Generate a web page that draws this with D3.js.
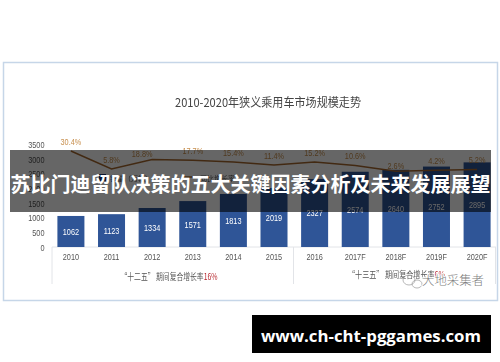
<!DOCTYPE html>
<html>
<head>
<meta charset="utf-8">
<script src="https://cdn.jsdelivr.net/npm/d3@7"></script>
<style>
  html, body { margin:0; padding:0; background:#fff; }
  svg { display:block; }
  text { font-family:"Liberation Sans","Noto Sans CJK SC",sans-serif; }
  .cjk { font-family:"Noto Sans CJK SC",sans-serif; }
</style>
</head>
<body>
<div id="chart"></div>
<script>
const years = ['2010','2011','2012','2013','2014','2015','2016','2017F','2018F','2019F','2020F'];
const sales = [1062,1123,1334,1571,1813,2019,2327,2574,2640,2752,2895];
const growth = [30.4,5.8,18.8,17.7,15.4,11.4,15.2,10.6,2.6,4.2,5.2];
const yTicks = [0,500,1000,1500,2000,2500,3000,3500];

const chartTitle = '2010-2020年狭义乘用车市场规模走势';
const legendLabels = ['销量（万辆）','同比增长率'];
const note12 = '“十二五” 期间复合增长率';
const note12Rate = '16%';
const note13 = '“十三五” 期间复合增长率';
const note13Rate = '6%';
const watermark = '大地采集者';
const headline = '苏比门迪留队决策的五大关键因素分析及未来发展展望';
const site = 'www.ch-cht-pggames.com';

const numFont = '"Liberation Sans",sans-serif';

// the numbers in the original are horizontally squeezed
function squeeze(sel){
  sel.each(function(){
    d3.select(this).attr('textLength', this.getComputedTextLength()*0.77).attr('lengthAdjust','spacingAndGlyphs');
  });
}

const svg = d3.select('#chart').append('svg').attr('width',500).attr('height',362);

// chart image is soft in the original, so blur it slightly
const chartG = svg.append('g').style('filter','blur(0.4px)');

chartG.append('rect').attr('x',3.5).attr('y',62.5).attr('width',494).attr('height',238)
  .attr('fill','#fff').attr('stroke','#c6d6e8').attr('stroke-width',1.5);

chartG.append('text').attr('class','cjk').attr('x',175).attr('y',106.5)
  .attr('textLength',186).attr('lengthAdjust','spacingAndGlyphs')
  .attr('font-size',12.4).attr('fill','#444').text(chartTitle);

const xScale = d3.scaleBand().domain(years).range([50.7,497.3]).paddingInner(0.335).paddingOuter(0.165);
const yScale = d3.scaleLinear().domain([0,3500]).range([247,144.7]);
const growthScale = d3.scaleLinear().domain([0,30.4]).range([173.2,151]);

// y axis
const yAxis = d3.axisLeft(yScale).tickValues(yTicks).tickSize(0).tickPadding(0).tickFormat(d3.format('d'));
chartG.append('g').attr('transform','translate(44.5,0)').call(yAxis)
  .call(g => g.select('.domain').remove())
  .call(g => g.selectAll('.tick text').attr('font-size',9.5).attr('fill','#555')
    .style('font-family',numFont).call(squeeze));

// baseline + period dividers
const grid = chartG.append('g').attr('stroke','#e2e4e8').attr('stroke-width',1).attr('fill','none');
grid.append('path').attr('d','M52,247H496');
grid.append('path').attr('d','M52,247V284');
grid.append('path').attr('d','M293.5,247V284');
grid.append('path').attr('d','M495.5,247V284');

// bars
chartG.append('g').selectAll('rect').data(sales).join('rect')
  .attr('x',(d,i)=>xScale(years[i]))
  .attr('y',d=>yScale(d))
  .attr('width',xScale.bandwidth())
  .attr('height',d=>yScale(0)-yScale(d))
  .attr('fill','#2f5597');

chartG.append('g').selectAll('text').data(sales).join('text')
  .attr('x',(d,i)=>xScale(years[i])+xScale.bandwidth()/2)
  .attr('y',d=>(yScale(d)+yScale(0))/2+3.5)
  .attr('text-anchor','middle').attr('font-size',9.5).attr('fill','#fff')
  .text(d=>d).call(squeeze);

// x labels
const xAxis = d3.axisBottom(xScale).tickSize(0).tickPadding(0);
chartG.append('g').attr('transform','translate(0,253)').call(xAxis)
  .call(g => g.select('.domain').remove())
  .call(g => g.selectAll('.tick text').attr('font-size',9.5).attr('fill','#555')
    .style('font-family',numFont).call(squeeze));

// growth line
const line = d3.line()
  .x((d,i)=>xScale(years[i])+xScale.bandwidth()/2)
  .y(d=>growthScale(d));
chartG.append('path').datum(growth).attr('d',line)
  .attr('fill','none').attr('stroke','#a5682f').attr('stroke-width',1.5);

chartG.append('g').selectAll('text').data(growth).join('text')
  .attr('x',(d,i)=>xScale(years[i])+xScale.bandwidth()/2-(d===18.8?10:0))
  .attr('y',d=>growthScale(d)-(d===18.8||d===2.6?2.5:6))
  .attr('text-anchor','middle').attr('font-size',9.5).attr('fill','#c8904f')
  .text(d=>d+'%').call(squeeze);

// legend, mostly hidden under the band
chartG.append('rect').attr('x',99).attr('y',174).attr('width',7).attr('height',7).attr('fill','#1f3b78');
chartG.append('text').attr('class','cjk').attr('x',110).attr('y',181).attr('font-size',7).attr('fill','#555').text(legendLabels[0]);
chartG.append('path').attr('d','M183,177H197').attr('stroke','#a5682f').attr('stroke-width',1.5);
chartG.append('text').attr('class','cjk').attr('x',200).attr('y',181).attr('font-size',7).attr('fill','#555').text(legendLabels[1]);

// period notes
const n12 = chartG.append('text').attr('class','cjk').attr('x',120.5).attr('y',280)
  .attr('textLength',97).attr('lengthAdjust','spacingAndGlyphs')
  .attr('font-size',8.6).attr('fill','#555');
n12.append('tspan').text(note12);
n12.append('tspan').attr('fill','#b5232a').text(note12Rate);
const n13 = chartG.append('text').attr('class','cjk').attr('x',348).attr('y',278)
  .attr('textLength',97).attr('lengthAdjust','spacingAndGlyphs')
  .attr('font-size',8.6).attr('fill','#555');
n13.append('tspan').text(note13);
n13.append('tspan').attr('fill','#b5232a').text(note13Rate);

// watermark
const wm = svg.append('g').attr('stroke','#999').attr('fill','none').attr('stroke-width',0.7);
wm.append('ellipse').attr('cx',409).attr('cy',280).attr('rx',6).attr('ry',5);
wm.append('ellipse').attr('cx',417).attr('cy',284).attr('rx',5).attr('ry',4);
svg.append('text').attr('class','cjk').attr('x',422).attr('y',285).attr('font-size',12.4)
  .attr('font-weight',300).attr('fill','#808080').attr('stroke','#fff').attr('stroke-width',1.6)
  .attr('paint-order','stroke').text(watermark);

// band over the chart
svg.append('rect').attr('x',10).attr('y',150).attr('width',481).attr('height',62)
  .attr('fill','#000').attr('fill-opacity',0.6);
svg.append('text').attr('class','cjk').attr('x',250.5).attr('y',192)
  .attr('text-anchor','middle').attr('font-size',20).attr('font-weight',700)
  .attr('fill','#fff').text(headline);

// site strip
svg.append('rect').attr('x',252).attr('y',315).attr('width',239).attr('height',38).attr('fill','#000');
svg.append('text').attr('x',371).attr('y',342)
  .attr('text-anchor','middle').attr('font-size',16.8).attr('font-weight',700)
  .attr('fill','#fff').style('font-family','"Open Sans",sans-serif').text(site);
</script>
</body>
</html>
